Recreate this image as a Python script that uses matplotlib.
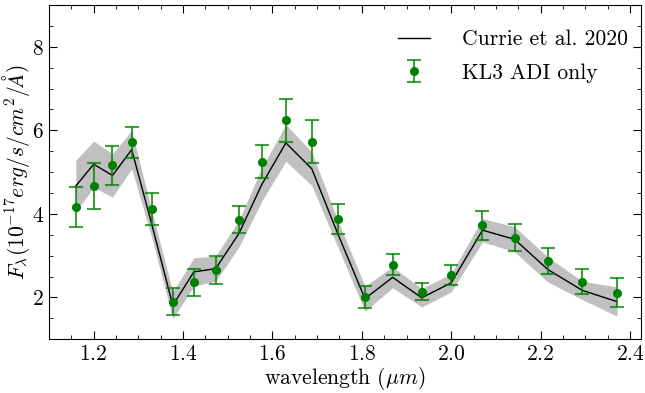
import numpy as np
import matplotlib
matplotlib.use("Agg")
import matplotlib.pyplot as plt
from matplotlib.ticker import MultipleLocator

# Currie et al. 2020 spectrum (line + uncertainty band)
wave = [1.160, 1.200, 1.242, 1.285, 1.330, 1.377, 1.424, 1.473, 1.525, 1.576, 1.630,
        1.688, 1.746, 1.807, 1.869, 1.934, 2.000, 2.070, 2.142, 2.216, 2.293, 2.371]
currie_flux = [4.67, 5.19, 4.92, 5.54, 3.75, 1.81, 2.61, 2.69, 3.53, 4.70, 5.70,
               5.08, 3.53, 1.97, 2.48, 1.99, 2.35, 3.61, 3.39, 2.67, 2.17, 1.90]
currie_err = [0.62, 0.55, 0.52, 0.46, 0.32, 0.32, 0.34, 0.30, 0.32, 0.40, 0.44,
              0.40, 0.32, 0.30, 0.25, 0.22, 0.22, 0.28, 0.30, 0.30, 0.22, 0.35]

# KL3 ADI-only extraction
kl3_flux = [4.17, 4.67, 5.16, 5.71, 4.12, 1.90, 2.36, 2.65, 3.86, 5.25, 6.24,
            5.73, 3.88, 2.01, 2.78, 2.14, 2.53, 3.73, 3.43, 2.87, 2.37, 2.11]
kl3_err = [0.48, 0.55, 0.47, 0.37, 0.38, 0.32, 0.33, 0.34, 0.32, 0.39, 0.51,
           0.52, 0.36, 0.27, 0.25, 0.20, 0.24, 0.35, 0.33, 0.31, 0.30, 0.35]

plt.rcParams["font.family"] = "serif"
plt.rcParams["font.serif"] = ["cmr10"]
plt.rcParams["mathtext.fontset"] = "cm"
plt.rcParams["axes.formatter.use_mathtext"] = True
plt.rcParams["font.size"] = 15.5

fig = plt.figure(figsize=(6.45, 3.93), dpi=100)
ax = fig.add_axes([0.076, 0.137, 0.918, 0.850])

lo = np.array(currie_flux) - np.array(currie_err)
hi = np.array(currie_flux) + np.array(currie_err)
ax.fill_between(wave, lo, hi, color="#c0c0c0", lw=0)
ax.plot(wave, currie_flux, color="black", lw=1, label="Currie et al. 2020")
ax.errorbar(wave, kl3_flux, yerr=kl3_err, fmt="o", color="green", ms=5.5,
            ecolor=(0, 0.5, 0, 0.75), elinewidth=1.5, capsize=5, capthick=1.5,
            label="KL3 ADI only")

ax.set_xlim(1.1, 2.425)
ax.set_ylim(1, 9)
ax.xaxis.set_major_locator(MultipleLocator(0.2))
ax.xaxis.set_minor_locator(MultipleLocator(0.05))
ax.yaxis.set_major_locator(MultipleLocator(2))
ax.yaxis.set_minor_locator(MultipleLocator(0.5))
ax.tick_params(which="both", direction="in", top=True, right=True)
ax.tick_params(which="major", length=6)
ax.tick_params(which="minor", length=3)

ax.set_xlabel(r"wavelength ($\mu m$)", labelpad=1)
ax.set_ylabel(r"$F_\lambda(10^{-17}erg/s/cm^2/\AA)$", labelpad=0)
ax.legend(loc="upper right", bbox_to_anchor=(0.9926, 0.952), borderaxespad=0,
          frameon=False, fontsize=15.5, labelspacing=0.65,
          handlelength=1.5, handletextpad=1.5)

fig.savefig("out.png", dpi=100)
